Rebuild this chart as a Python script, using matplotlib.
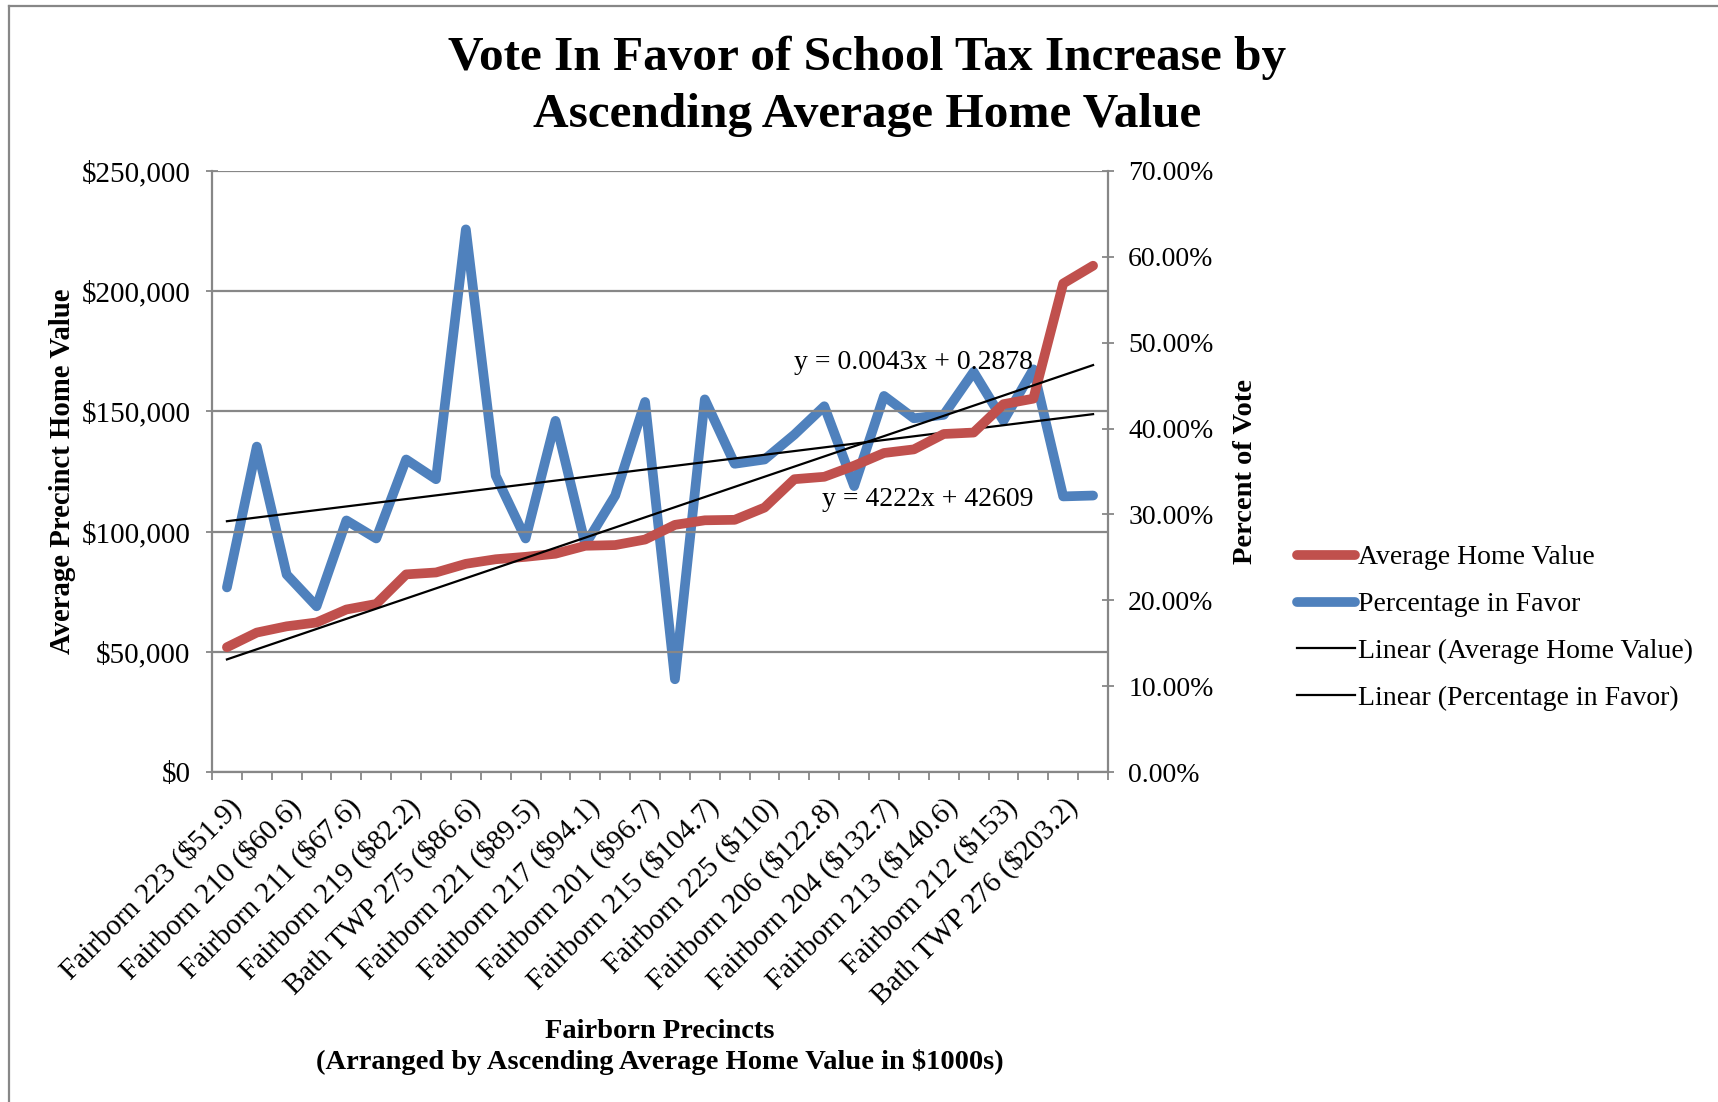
import matplotlib
matplotlib.use('Agg')
import matplotlib.pyplot as plt
from matplotlib.lines import Line2D
import numpy as np

plt.rcParams['font.family'] = ['Liberation Serif', 'DejaVu Serif']

# precinct average home value (dollars) and share of vote in favor, ascending by home value
home_value_k = [51.9, 58.0, 60.6, 62.2, 67.6, 69.9, 82.2, 83.0, 86.6, 88.5,
                89.5, 90.8, 94.1, 94.4, 96.7, 102.8, 104.7, 104.9, 110.0, 121.8,
                122.8, 127.4, 132.7, 134.2, 140.6, 141.2, 153.0, 155.3, 203.2, 210.6]
pct_favor = [21.5, 37.9, 23.0, 19.3, 29.3, 27.2, 36.4, 34.1, 63.2, 34.5,
             27.2, 40.9, 26.5, 32.2, 43.1, 10.8, 43.4, 35.9, 36.4, 39.3,
             42.6, 33.3, 43.8, 41.2, 41.6, 46.6, 40.9, 46.9, 32.1, 32.2]
tick_labels = ['Fairborn 223 ($51.9)', 'Fairborn 210 ($60.6)', 'Fairborn 211 ($67.6)',
               'Fairborn 219 ($82.2)', 'Bath TWP 275 ($86.6)', 'Fairborn 221 ($89.5)',
               'Fairborn 217 ($94.1)', 'Fairborn 201 ($96.7)', 'Fairborn 215 ($104.7)',
               'Fairborn 225 ($110)', 'Fairborn 206 ($122.8)', 'Fairborn 204 ($132.7)',
               'Fairborn 213 ($140.6)', 'Fairborn 212 ($153)', 'Bath TWP 276 ($203.2)']
# Excel trendline coefficients (x = 1..30)
home_fit = (4222, 42609)
pct_fit = (0.0043, 0.2878)

RED = '#C0504D'
BLUE = '#4F81BD'
GRAY = '#878787'

n = len(home_value_k)
x = np.arange(n)
xn = x + 1
home_value = np.array(home_value_k) * 1000
pct = np.array(pct_favor) / 100

W, H = 1718, 1102
fig = plt.figure(figsize=(W / 100, H / 100), dpi=100)
L, R, T, B = 212, 1108, 171, 772
ax = fig.add_axes([L / W, 1 - B / H, (R - L) / W, (B - T) / H])
ax2 = ax.twinx()

# chart frame
fig.add_artist(Line2D([8.5 / W, 8.5 / W], [0, 1 - 5.5 / H], color=GRAY, lw=1.6))
fig.add_artist(Line2D([8.5 / W, 1], [1 - 5.5 / H, 1 - 5.5 / H], color=GRAY, lw=1.6))

ax.set_xlim(-0.5, n - 0.5)
ax.set_ylim(0, 250000)
ax2.set_ylim(0, 0.70)

ax.set_yticks(np.arange(0, 250001, 50000))
ax.set_yticklabels(['$0', '$50,000', '$100,000', '$150,000', '$200,000', '$250,000'])
ax2.set_yticks(np.arange(0, 0.701, 0.1))
ax2.set_yticklabels(['%.2f%%' % (v * 100) for v in np.arange(0, 0.701, 0.1)])

ax.set_xticks(np.arange(-0.5, n, 1.0))
ax.set_xticklabels([])
ax.set_xticks(x[::2], minor=True)
ax.set_xticklabels(tick_labels, minor=True, rotation=45, ha='right',
                   rotation_mode='anchor', fontsize=21)
ax.tick_params(axis='x', which='minor', length=0, pad=15)
ax.tick_params(axis='x', which='major', direction='out', length=6, width=1.3, color=GRAY)
ax.tick_params(axis='y', direction='inout', length=9, width=1.3, color=GRAY,
               labelsize=21, pad=11)
ax2.tick_params(axis='y', direction='inout', length=9, width=1.3, color=GRAY,
                labelsize=20, pad=10)

ax.yaxis.grid(True, color=GRAY, lw=1.6)
ax.set_axisbelow(True)
for a in (ax, ax2):
    a.spines['top'].set_visible(False)
    for s in ('left', 'right', 'bottom'):
        a.spines[s].set_color(GRAY)
        a.spines[s].set_linewidth(1.6)
ax.spines['right'].set_visible(False)
ax2.spines['left'].set_visible(False)
ax2.spines['bottom'].set_visible(False)

# series
ax.plot(x, home_value, color=RED, lw=7, solid_capstyle='round',
        solid_joinstyle='round', label='Average Home Value', zorder=3)
ax2.plot(x, pct, color=BLUE, lw=7, solid_capstyle='round',
         solid_joinstyle='round', label='Percentage in Favor', zorder=3)
ax.plot(x, home_fit[0] * xn + home_fit[1], color='black', lw=1.6, zorder=4,
        label='Linear (Average Home Value)')
ax2.plot(x, pct_fit[0] * xn + pct_fit[1], color='black', lw=1.6, zorder=4,
         label='Linear (Percentage in Favor)')
ax.set_zorder(ax2.get_zorder() + 1)
ax.patch.set_visible(False)

ax2.text(27.0, 0.477, 'y = 0.0043x + 0.2878', ha='right', va='center', fontsize=20)
ax2.text(27.0, 0.317, 'y = 4222x + 42609', ha='right', va='center', fontsize=20)

ax.set_ylabel('Average Precinct Home Value', fontsize=20.7, fontweight='bold', labelpad=4)
ax2.set_ylabel('Percent of Vote', fontsize=20.5, fontweight='bold', labelpad=14)
fig.text(660 / W, 1 - 1047 / H,
         'Fairborn Precincts\n(Arranged by Ascending Average Home Value in $1000s)',
         ha='center', va='center', fontsize=20.5, fontweight='bold', linespacing=1.22)

fig.text(867 / W, 1 - 86 / H,
         'Vote In Favor of School Tax Increase by\nAscending Average Home Value',
         ha='center', va='center', fontsize=35.5, fontweight='bold', linespacing=1.38)

h1, l1 = ax.get_legend_handles_labels()
h2, l2 = ax2.get_legend_handles_labels()
handles = [h1[0], h2[0], h1[1], h2[1]]
labels = [l1[0], l2[0], l1[1], l2[1]]
fig.legend(handles, labels, loc='center left', bbox_to_anchor=(1297 / W, 1 - 628 / H),
           frameon=False, fontsize=20, handlelength=2.1, handletextpad=0.1,
           labelspacing=0.77, borderpad=0, borderaxespad=0)

fig.savefig('out.png', dpi=100)
